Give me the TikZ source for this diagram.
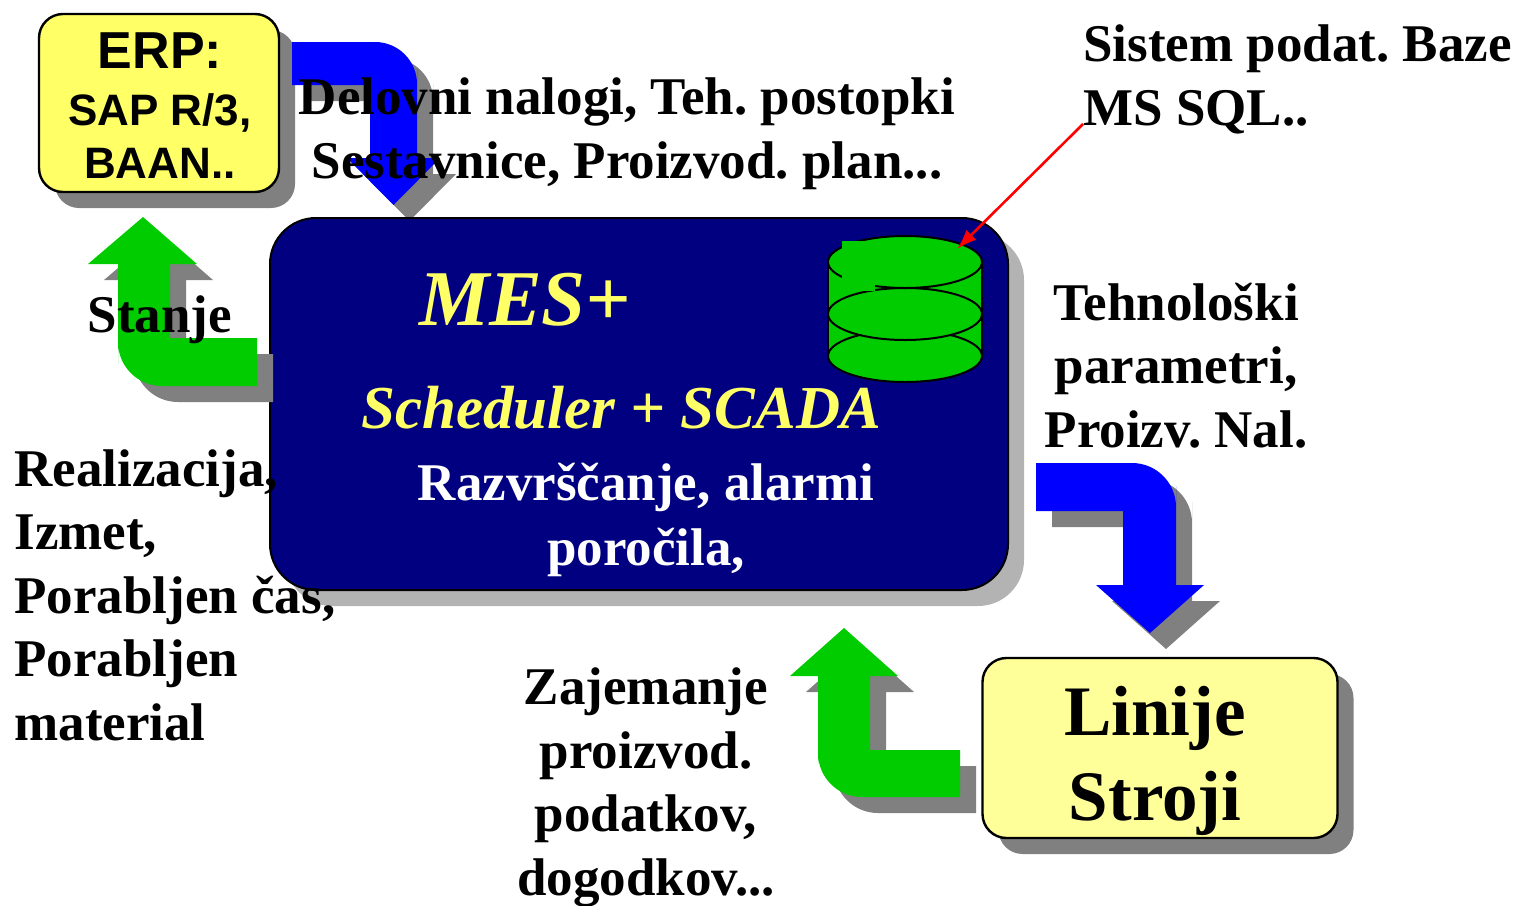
\documentclass[tikz,border=0pt]{standalone}
\usepackage{fontspec}
\setmainfont{Liberation Serif}
\newfontfamily\erpfont{Liberation Sans}
\usetikzlibrary{shadows, arrows.meta, positioning}
\frenchspacing

\definecolor{erpyellow}{HTML}{FFFF66}
\definecolor{lineyellow}{HTML}{FFFF99}
\definecolor{mesnavy}{HTML}{000080}
\definecolor{flowblue}{HTML}{0000FF}
\definecolor{flowgreen}{HTML}{00CC00}
\definecolor{shgray}{HTML}{808080}
\definecolor{shlight}{HTML}{B3B3B3}

\tikzset{
  shadowed/.style={drop shadow={shadow xshift=8pt, shadow yshift=-8pt, fill=#1, opacity=1}},
  shadowed/.default=shgray,
  box/.style={rectangle, draw=black, line width=1.2pt, rounded corners=12pt, inner sep=0pt},
  txt/.style={font=\bfseries\fontsize{26.5}{31.75}\selectfont, inner sep=0pt},
}

\begin{document}
\begin{tikzpicture}[x=0.5pt, y=-0.5pt]
  \useasboundingbox (0,0) rectangle (1519,905);

  % ERP box and order arrow
  \node[box, shadowed, fill=erpyellow, minimum width=120pt, minimum height=89pt] (erp) at (159,103) {};
  \node[txt, anchor=base, align=center, font=\erpfont\bfseries\fontsize{22}{26.5}\selectfont]
        (erptext) at (160,178) {{\fontsize{26}{28}\selectfont ERP:}\\[2pt]SAP R/3,\\BAAN..};
  \fill[flowblue, shadowed] (292,42) -- (340,42) [rounded corners=21pt] -- (417,42) -- (417,110)
        [sharp corners] -- (417,158) -- (440,158) -- (393.5,205) -- (347,158) -- (370,158)
        -- (370,85) -- (292,85) -- cycle;

  % MES box
  \node[box, shadowed=shlight, fill=mesnavy, line width=1pt, rounded corners=23pt,
        minimum width=369pt, minimum height=186pt] (mes) at (639,404) {};

  % database
  \fill[flowgreen] (828,262) rectangle (982,356);
  \filldraw[fill=flowgreen, line width=1pt] (905,356) ellipse [x radius=77, y radius=26];
  \filldraw[fill=flowgreen, line width=1pt] (905,314) ellipse [x radius=77, y radius=26];
  \filldraw[fill=flowgreen, line width=1pt] (905,262) ellipse [x radius=77, y radius=26];
  \draw[line width=1pt] (828,262) -- (828,356) (982,262) -- (982,356);
  \fill[flowgreen] (842,241) rectangle (875,291);
  \coordinate (dbtop) at (957,249);
  \coordinate (sqlpt) at (1083,124);
  \draw[red, line width=1.3pt, -{Latex[length=10pt, width=7pt]}] (sqlpt) -- (dbtop);

  % state arrow
  \fill[flowgreen, shadowed] (200,386) [rounded corners=22pt] -- (118,386) -- (118,320)
        [sharp corners] -- (118,264) -- (88,264) -- (143,217) -- (197,264) -- (170,264)
        -- (170,338) -- (257,338) -- (257,386) -- cycle;

  % lines box and arrows
  \node[box, shadowed, fill=lineyellow, minimum width=177.5pt, minimum height=90pt] (lines) at (1160,748) {};
  \node[txt, anchor=base, align=center, font=\bfseries\fontsize{35.5}{42.5}\selectfont]
        (linestext) at (1155,820) {Linije\\Stroji};
  \fill[flowblue, shadowed] (1036,463) -- (1100,463) [rounded corners=22pt] -- (1176,463)
        -- (1176,530) [sharp corners] -- (1176,585) -- (1204,585) -- (1150,633) -- (1096,585)
        -- (1123,585) -- (1123,511) -- (1036,511) -- cycle;
  \fill[flowgreen, shadowed] (900,797) [rounded corners=22pt] -- (818,797) -- (818,720)
        [sharp corners] -- (818,676) -- (790,676) -- (844,628) -- (898,676) -- (870,676)
        -- (870,750) -- (960,750) -- (960,797) -- cycle;

  % texts
  \node[txt, anchor=base, text=erpyellow, font=\bfseries\itshape\fontsize{39.5}{44}\selectfont]
        (mestitle) at (525,325) {MES+};
  \node[txt, anchor=base, text=erpyellow, font=\bfseries\itshape\fontsize{30.5}{36}\selectfont]
        (scada) at (621,428) {Scheduler + SCADA};
  \node[txt, anchor=base, text=white, align=center, font=\bfseries\fontsize{26.5}{32.5}\selectfont]
        (mesdesc) at (646,565) {Razvrščanje, alarmi\\poročila,};
  \node[txt, anchor=base, align=center] (orders) at (627,178)
        {Delovni nalogi, Teh. postopki\\Sestavnice, Proizvod. plan...};
  \node[txt, anchor=base west, align=left] (sqlnote) at (1083,125) {Sistem podat. Baze\\MS SQL..};
  \node[txt, anchor=base] (stanje) at (160,332) {Stanje};
  \node[txt, anchor=base west, align=left] (results) at (14,740)
        {Realizacija,\\Izmet,\\Porabljen čas,\\Porabljen\\material};
  \node[txt, anchor=base, align=center] (params) at (1176,447) {Tehnološki\\parametri,\\Proizv. Nal.};
  \node[txt, anchor=base, align=center] (capture) at (646,895)
        {Zajemanje\\proizvod.\\podatkov,\\dogodkov...};
\end{tikzpicture}
\end{document}
